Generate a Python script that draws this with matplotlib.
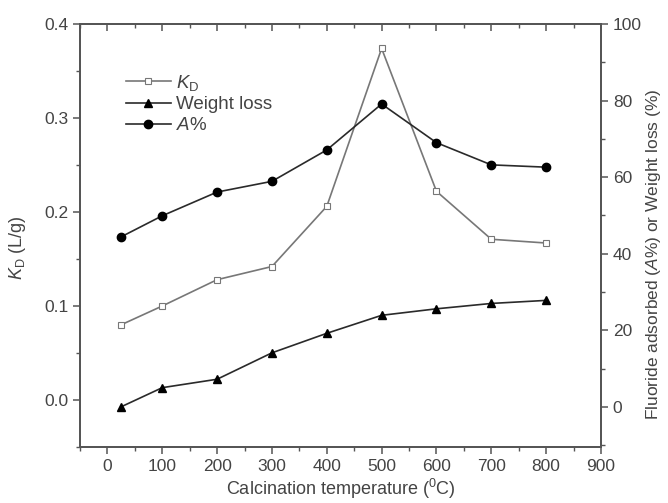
import matplotlib
matplotlib.use("Agg")
import matplotlib.pyplot as plt
from matplotlib.ticker import MultipleLocator

temps = [25, 100, 200, 300, 400, 500, 600, 700, 800]
kd = [0.080, 0.100, 0.128, 0.142, 0.206, 0.374, 0.222, 0.171, 0.167]
weight_loss = [0.0, 5.0, 7.2, 14.1, 19.2, 23.9, 25.6, 27.0, 27.8]
a_pct = [44.4, 49.9, 56.1, 58.9, 67.1, 79.1, 69.0, 63.2, 62.6]

plt.rcParams['font.family'] = ['Liberation Sans', 'DejaVu Sans']
plt.rcParams['mathtext.fontset'] = 'custom'
plt.rcParams['mathtext.rm'] = 'Liberation Sans'
plt.rcParams['mathtext.it'] = 'Liberation Sans:italic'

tc = '#444444'
fs_tick = 12.5
fs_lab = 13
fig = plt.figure(figsize=(6.68, 5.03), dpi=100)
ax = fig.add_axes([80/668, 1-447/503, (601-80)/668, (447-24)/503])
ax2 = ax.twinx()

l1, = ax.plot(temps, kd, color='#777777', lw=1.2, marker='s', ms=4,
              mfc='white', mec='#777777', mew=0.8, label='$K_\\mathrm{D}$')
l2, = ax2.plot(temps, weight_loss, color='#2a2a2a', lw=1.2, marker='^', ms=6,
               mfc='black', mec='black', label='Weight loss')
l3, = ax2.plot(temps, a_pct, color='#2a2a2a', lw=1.2, marker='o', ms=6,
               mfc='black', mec='black', label='$A$%')

ax.set_xlim(-50, 900)
ax.set_ylim(-0.05, 0.4)
ax2.set_ylim(-10.5, 100)

ax.xaxis.set_major_locator(MultipleLocator(100))
ax.xaxis.set_minor_locator(MultipleLocator(50))
ax.yaxis.set_minor_locator(MultipleLocator(0.05))
ax2.yaxis.set_minor_locator(MultipleLocator(10))
ax.set_yticks([0.0, 0.1, 0.2, 0.3, 0.4])
ax.set_yticklabels(['0.0', '0.1', '0.2', '0.3', '0.4'])
ax2.set_yticks([0, 20, 40, 60, 80, 100])

for a in (ax, ax2):
    for s in a.spines.values():
        s.set_color('#555555')
        s.set_linewidth(1.3)
ax.tick_params(axis='x', which='both', direction='out', top=True, colors='#555555',
               labelcolor=tc, labelsize=fs_tick)
ax.tick_params(axis='x', which='major', length=5, width=1.1)
ax.tick_params(axis='x', which='minor', length=3, width=1.0)
ax.tick_params(axis='y', which='both', direction='out', colors='#555555',
               labelcolor=tc, labelsize=fs_tick)
ax.tick_params(axis='y', which='major', length=5, width=1.1)
ax.tick_params(axis='y', which='minor', length=3, width=1.0)
ax2.tick_params(axis='y', which='both', direction='out', colors='#555555',
                labelcolor=tc, labelsize=fs_tick)
ax2.tick_params(axis='y', which='major', length=5, width=1.1)
ax2.tick_params(axis='y', which='minor', length=3, width=1.0)
# top ticks inward
for t in ax.xaxis.get_major_ticks() + ax.xaxis.get_minor_ticks():
    t.tick2line.set_marker(3)

ax.set_xlabel('Calcination temperature ($^{0}$C)', fontsize=fs_lab, color=tc, labelpad=2)
ax.set_ylabel('$K_\\mathrm{D}$ (L/g)', fontsize=fs_lab, color=tc, labelpad=4)
ax.yaxis.set_label_coords(-0.1, 0.47)
ax2.set_ylabel('Fluoride adsorbed ($A$%) or Weight loss (%)', fontsize=12.5, color=tc)
ax2.yaxis.set_label_coords(1.083, 0.455)

leg = ax.legend(handles=[l1, l2, l3], loc='upper left', bbox_to_anchor=(0.055, 0.925),
                frameon=False, fontsize=13.5, handlelength=2.4, handletextpad=0.3,
                labelspacing=0.2, labelcolor=tc)

fig.savefig('out.png', dpi=100)
